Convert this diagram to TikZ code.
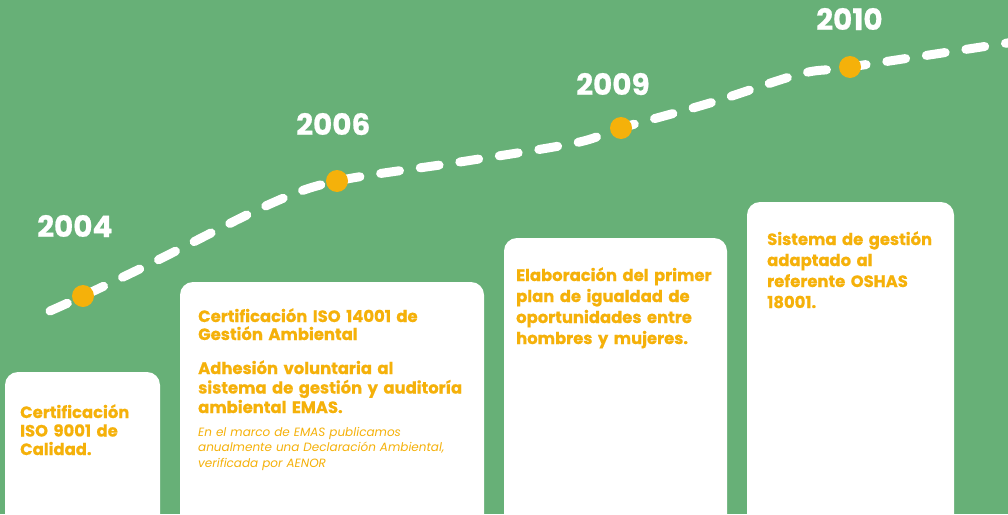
\documentclass[tikz,border=0pt]{standalone}
\usepackage{fontspec}
\setmainfont{Poppins}[BoldFeatures={FakeBold=0.6}]
\usepackage{tikz}
\usetikzlibrary{positioning}
\definecolor{bgColor}{RGB}{103,176,119}
\definecolor{dotColor}{RGB}{245,177,10}
\tikzstyle{timeline} = [x = 1pt, y = -1pt]
\tikzstyle{cardStyle} = [fill=white, rounded corners = 13pt]
\tikzstyle{dashLine} = [color=white, line width=9pt, line cap=round, dash pattern=on 19pt off 21pt]
\tikzstyle{dotStyle} = [circle, fill=dotColor, minimum size=22pt, inner sep=0pt]
\tikzstyle{yearText} = [font=\fontsize{29.5}{29.5}\selectfont\bfseries, color=white, anchor=base west, inner sep=0pt]
\tikzstyle{cardText} = [color=dotColor, anchor=base west, inner sep=0pt, align=left, text width=300pt]
\tikzstyle{noteText} = [cardText, font=\fontsize{12}{15.5}\selectfont\itshape]
\newcommand{\cardFont}[1]{\fontsize{16.4}{#1}\selectfont\bfseries}
\newcommand{\card}[4]{\fill [cardStyle] (#1, #2) rectangle (#3, #4);}

\begin{document}
\begin{tikzpicture}[timeline]
  \useasboundingbox (0,0) rectangle (1008,514);
  \fill [bgColor] (0,0) rectangle (1008,514);
  \clip (0,0) rectangle (1008,514);

  % cards
  \card{5}{372}{160}{530}
  \card{180}{282}{484}{530}
  \card{504}{238}{727}{530}
  \card{747}{202}{954}{530}

  % timeline
  \coordinate (lineStart) at (50,311);
  \coordinate (at2004) at (83,296);
  \coordinate (bendA) at (154,262);
  \coordinate (bendB) at (270,204);
  \coordinate (at2006) at (337,181);
  \coordinate (bendC) at (460,162);
  \coordinate (bendD) at (575,143);
  \coordinate (at2009) at (621,128);
  \coordinate (bendE) at (710,103);
  \coordinate (bendF) at (800,74);
  \coordinate (at2010) at (850,67);
  \coordinate (lineEnd) at (1014,42);
  \draw [dashLine] plot [smooth, tension=0.55] coordinates {(lineStart) (at2004) (bendA) (bendB) (at2006) (bendC) (bendD) (at2009) (bendE) (bendF) (at2010) (lineEnd)};

  \node [dotStyle] (dot2004) at (at2004) {};
  \node [dotStyle] (dot2006) at (at2006) {};
  \node [dotStyle] (dot2009) at (at2009) {};
  \node [dotStyle] (dot2010) at (at2010) {};

  % years
  \node [yearText] (year2004) at (37,237) {2004};
  \node [yearText] (year2006) at (296,135) {2006};
  \node [yearText] (year2009) at (576,95) {2009};
  \node [yearText] (year2010) at (816,30) {2010};

  % texts
  \node [cardText, font=\cardFont{18.5}] (textIso9001) at (20,418) {Certificación\\ISO 9001 de\\Calidad.};
  \node [cardText, font=\cardFont{18}] (textIso14001) at (198,322) {Certificación ISO 14001 de\\Gestión Ambiental};
  \node [cardText, font=\cardFont{19.5}] (textEmas) at (198,374) {Adhesión voluntaria al\\sistema de gestión y auditoría\\ambiental EMAS.};
  \node [noteText] (noteEmas) at (198,436) {En el marco de EMAS publicamos\\anualmente una Declaración Ambiental,\\verificada por AENOR};
  \node [cardText, font=\cardFont{21}] (textIgualdad) at (516,281) {Elaboración del primer\\plan de igualdad de\\oportunidades entre\\hombres y mujeres.};
  \node [cardText, font=\cardFont{21}] (textOshas) at (767,245) {Sistema de gestión\\adaptado al\\referente OSHAS\\18001.};
\end{tikzpicture}
\end{document}
